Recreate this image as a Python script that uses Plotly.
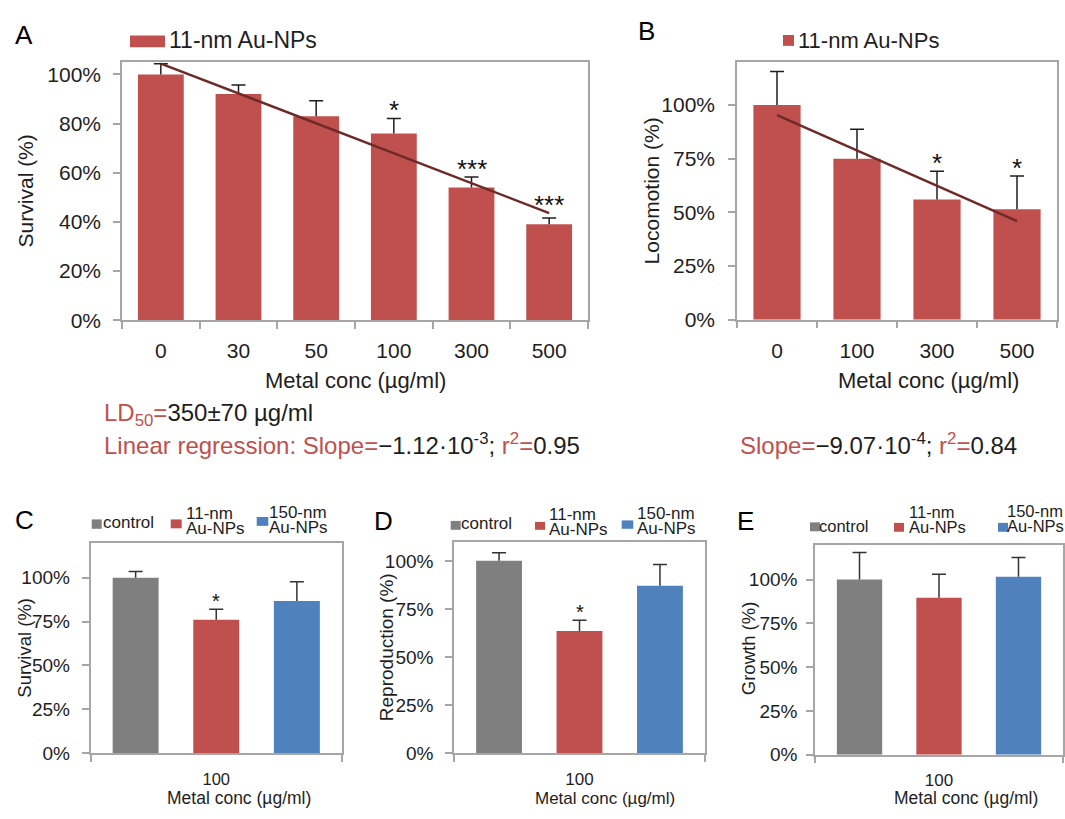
import numpy as np
import plotly.graph_objects as go

# ---------------- data ----------------
# A: survival vs. 11-nm Au-NP concentration
conc_a = ["0", "30", "50", "100", "300", "500"]
survival_a = [1.00, 0.92, 0.83, 0.76, 0.54, 0.39]
survival_a_err = [0.043, 0.037, 0.063, 0.061, 0.043, 0.026]
stars_a = ["", "", "", "*", "***", "***"]

# B: locomotion vs. 11-nm Au-NP concentration
conc_b = ["0", "100", "300", "500"]
locomotion_b = [1.00, 0.75, 0.56, 0.515]
locomotion_b_err = [0.157, 0.137, 0.132, 0.155]
stars_b = ["", "", "*", "*"]

# C-E: control vs. 11-nm vs. 150-nm particles at 100 ug/ml
group_names = ["control", "11-nm Au-NPs", "150-nm Au-NPs"]
group_legend_lines = [["control"], ["11-nm", "Au-NPs"], ["150-nm", "Au-NPs"]]
conc_cde = "100"
survival_c = [1.00, 0.76, 0.867]
survival_c_err = [0.035, 0.060, 0.110]
stars_c = ["", "*", ""]
reproduction_d = [1.00, 0.635, 0.871]
reproduction_d_err = [0.042, 0.056, 0.110]
stars_d = ["", "*", ""]
growth_e = [1.00, 0.896, 1.017]
growth_e_err = [0.155, 0.134, 0.109]
stars_e = ["", "", ""]

# ---------------- styling ----------------
W, H = 1065, 819
FONT = "Liberation Sans, Arial, sans-serif"
TXT = "#1e1e1e"
FRAME = "#a6a6a6"
RED = "#c0504d"
GRAY = "#7f7f7f"
BLUE = "#4f81bd"
TREND = "#6e2a29"
ERR = "#1e1e1e"
ERR_CDE = "#333333"
group_colors = [GRAY, RED, BLUE]

# grouped panels use a numeric axis: one slot per group, centred on 0
group_pos = np.arange(len(group_names)) - (len(group_names) - 1) / 2
GROUP_HALF = 1.56          # half-span of the grouped axes, in slots
BAR_W_CAT = 0.59           # bar width on the category axes (fraction of slot)
BAR_W_GRP = 0.57           # bar width on the grouped axes (in slots)


def px_x(p):
    return p / W


def px_y(p):
    return 1 - p / H


# plot-area frames in pixels: (left, right), (top, bottom)
frames = {
    "A": ((122, 588), (63, 324.5)),
    "B": ((737, 1057), (63, 324)),
    "C": ((90.5, 342), (550, 763.3)),
    "D": ((454, 705), (549, 763.3)),
    "E": ((815, 1063), (552, 765)),
}

AXIS_COMMON = dict(showline=True, mirror=True, linecolor=FRAME, linewidth=1.5,
                   ticks="outside", ticklen=7, tickwidth=1.5, showgrid=False,
                   zeroline=False)


def cat_x_axis(key, anchor, ncat, size, standoff):
    (l, r), _ = frames[key]
    return dict(domain=[px_x(l), px_x(r)], anchor=anchor, type="category",
                range=[-0.5, ncat - 0.5], tickson="boundaries", tickcolor=FRAME,
                tickfont=dict(size=size, color=TXT, family=FONT),
                ticklabelstandoff=standoff, **AXIS_COMMON)


def grp_x_axis(key, anchor, size, standoff):
    (l, r), _ = frames[key]
    return dict(domain=[px_x(l), px_x(r)], anchor=anchor, type="linear",
                range=[-GROUP_HALF, GROUP_HALF], tickvals=[0], ticktext=[conc_cde],
                tickcolor="rgba(0,0,0,0)",
                minor=dict(tickvals=[-GROUP_HALF, GROUP_HALF], ticks="outside",
                           ticklen=7, tickwidth=1.5, tickcolor=FRAME, showgrid=False),
                tickfont=dict(size=size, color=TXT, family=FONT),
                ticklabelstandoff=standoff, **AXIS_COMMON)


def y_axis(key, anchor, top, step, size, standoff):
    _, (t, b) = frames[key]
    vals = list(np.arange(0, 1.0001, step))
    return dict(domain=[px_y(b), px_y(t)], anchor=anchor, range=[0, top],
                tickvals=vals, tickformat=".0%", tickcolor=FRAME,
                tickfont=dict(size=size, color=TXT, family=FONT),
                ticklabelstandoff=standoff, **AXIS_COMMON)


fig = go.Figure()


def add_bars(x, y, color, name, xa, ya, width):
    fig.add_trace(go.Bar(x=x, y=y, width=width, offset=-width / 2,
                         marker=dict(color=color, line=dict(width=0)),
                         name=name, xaxis=xa, yaxis=ya))


def add_plus_errors(x, y, err, color, xa, ya, name):
    # upper-only whiskers with a cap, like spreadsheet "plus" error bars
    wx, wy = [], []
    for xi, yi, ei in zip(x, y, err):
        wx += [xi, xi, None]
        wy += [yi, yi + ei, None]
    fig.add_trace(go.Scatter(x=wx, y=wy, mode="lines", line=dict(color=color, width=1.5),
                             hoverinfo="skip", name=name + " SE", xaxis=xa, yaxis=ya))
    fig.add_trace(go.Scatter(x=list(x), y=[yi + ei for yi, ei in zip(y, err)],
                             mode="markers", hoverinfo="skip", name=name + " SE",
                             marker=dict(symbol="line-ew", size=10,
                                         line=dict(color=color, width=1.5)),
                             xaxis=xa, yaxis=ya))


# linear trendlines over the category index
idx_a = np.arange(len(conc_a))
trend_a = np.polyval(np.polyfit(idx_a, survival_a, 1), idx_a)
idx_b = np.arange(len(conc_b))
trend_b = np.polyval(np.polyfit(idx_b, locomotion_b, 1), idx_b)

add_bars(conc_a, survival_a, RED, group_names[1], "x", "y", BAR_W_CAT)
add_plus_errors(conc_a, survival_a, survival_a_err, ERR, "x", "y", group_names[1])
fig.add_trace(go.Scatter(x=conc_a, y=trend_a, mode="lines",
                         line=dict(color=TREND, width=2.5),
                         name="Linear (11-nm Au-NPs)", xaxis="x", yaxis="y"))

add_bars(conc_b, locomotion_b, RED, group_names[1], "x2", "y2", BAR_W_CAT)
add_plus_errors(conc_b, locomotion_b, locomotion_b_err, ERR, "x2", "y2", group_names[1])
fig.add_trace(go.Scatter(x=conc_b, y=trend_b, mode="lines",
                         line=dict(color=TREND, width=2.5),
                         name="Linear (11-nm Au-NPs)", xaxis="x2", yaxis="y2"))

cde = [
    ("x3", "y3", survival_c, survival_c_err, stars_c),
    ("x4", "y4", reproduction_d, reproduction_d_err, stars_d),
    ("x5", "y5", growth_e, growth_e_err, stars_e),
]
for xa, ya, vals, errs, _ in cde:
    for name, color, pos, v in zip(group_names, group_colors, group_pos, vals):
        add_bars([pos], [v], color, name, xa, ya, BAR_W_GRP)
    add_plus_errors(group_pos, vals, errs, ERR_CDE, xa, ya, "groups")

fig.update_layout(
    width=W, height=H, margin=dict(l=0, r=0, t=0, b=0),
    paper_bgcolor="white", plot_bgcolor="white", showlegend=False,
    barmode="overlay",
    font=dict(family=FONT, color=TXT),
    xaxis=cat_x_axis("A", "y", len(conc_a), 21, 11),
    yaxis=y_axis("A", "x", 1.05, 0.2, 21, 8),
    xaxis2=cat_x_axis("B", "y2", len(conc_b), 21, 11),
    yaxis2=y_axis("B", "x2", 1.2, 0.25, 21, 9),
    xaxis3=grp_x_axis("C", "y3", 16.5, 3),
    yaxis3=y_axis("C", "x3", 1.2, 0.25, 19, 8),
    xaxis4=grp_x_axis("D", "y4", 17, 3),
    yaxis4=y_axis("D", "x4", 1.1, 0.25, 19, 8),
    xaxis5=grp_x_axis("E", "y5", 17, 2),
    yaxis5=y_axis("E", "x5", 1.2, 0.25, 19, 5),
)

ann = []
shapes = []


def text(s, x, y, size, color=TXT, xanchor="center", angle=0):
    ann.append(dict(text=s, x=px_x(x), y=px_y(y), xref="paper", yref="paper",
                    xanchor=xanchor, yanchor="middle", showarrow=False,
                    textangle=angle, borderpad=0,
                    font=dict(size=size, color=color, family=FONT)))


def swatch(x0, x1, y0, y1, color):
    shapes.append(dict(type="rect", xref="paper", yref="paper",
                       x0=px_x(x0), x1=px_x(x1), y0=px_y(y1), y1=px_y(y0),
                       fillcolor=color, line=dict(width=0)))


def star(lab, x, y, xa, ya, size, shift):
    ann.append(dict(text=lab, x=x, y=y, xref=xa, yref=ya, showarrow=False,
                    xanchor="center", yanchor="bottom", yshift=shift,
                    font=dict(size=size, color="#111111", family=FONT)))


# significance marks above error bars (and above the trendline);
# category axes take the category index as annotation position
for i, lab in enumerate(stars_a):
    if lab:
        star(lab, i, max(survival_a[i] + survival_a_err[i], trend_a[i]), "x", "y", 26, -9)
for i, lab in enumerate(stars_b):
    if lab:
        star(lab, i, max(locomotion_b[i] + locomotion_b_err[i], trend_b[i]), "x2", "y2", 26, -9)
for xa, ya, vals, errs, labs in cde:
    for pos, lab, v, e in zip(group_pos, labs, vals, errs):
        if lab:
            star(lab, pos, v + e, xa, ya, 20, -5)

# panel letters
for letter, (x, y) in {"A": (24, 35), "B": (646, 31), "C": (24, 527.5),
                       "D": (383, 528), "E": (745, 528.5)}.items():
    text(letter, x, y, 26, "#000000")

# axis titles
xt = "Metal conc (µg/ml)"
text("Survival (%)", 25, 194, 21, angle=-90)
text(xt, 355, 386, 22)
text("Locomotion (%)", 651, 194, 21, angle=-90)
text(xt, 928, 386, 22)
text("Survival (%)", 24.5, 657, 18.5, angle=-90)
text(xt, 239, 808.5, 17.5)
text("Reproduction (%)", 386, 656, 19, angle=-90)
text(xt, 605, 809, 17)
text("Growth (%)", 748, 657, 18.5, angle=-90)
text(xt, 966, 808.5, 17.5)

# legends for A and B
swatch(130, 165, 36, 48, RED)
text(group_names[1], 168, 41, 23, xanchor="left")
swatch(783, 794, 35.5, 46.5, RED)
text(group_names[1], 797, 41, 22, xanchor="left")

# legends for C-E: swatch x-range, swatch y-range, text x, line y-centres, font size
legend_cde = [
    ([((91.7, 101.7), (526.5, 536), 102, [530]),
      ((170.7, 181.7), (526.5, 535.5), 185, [520, 536]),
      ((256.7, 268.3), (524, 533), 268, [519, 535])], 17),
    ([((450.7, 460.7), (528, 537), 460, [530.7]),
      ((535, 545), (529, 537), 548, [521, 537]),
      ((621.7, 633.3), (527.5, 536), 636, [520, 536])], 17),
    ([((810, 820), (529.5, 538.5), 818, [533]),
      ((894, 904), (530, 539), 908, [519, 534]),
      ((998, 1008), (530, 539), 1006, [518, 533])], 16.5),
]
for panel, size in legend_cde:
    for (sx, sy, tx, ly), color, lines in zip(panel, group_colors, group_legend_lines):
        swatch(sx[0], sx[1], sy[0], sy[1], color)
        for line, y in zip(lines, ly):
            text(line, tx, y, size, xanchor="left")

# regression summary below A and B
R = RED
text(f'<span style="color:{R}">LD<sub>50</sub>=</span>350±70 µg/ml',
     103, 420, 24, xanchor="left")
text(f'<span style="color:{R}">Linear regression: Slope=</span>−1.12·10<sup>-3</sup>; '
     f'<span style="color:{R}">r<sup>2</sup>=</span>0.95', 103, 450, 24, xanchor="left")
text(f'<span style="color:{R}">Slope=</span>−9.07·10<sup>-4</sup>; '
     f'<span style="color:{R}">r<sup>2</sup>=</span>0.84', 739, 450, 24, xanchor="left")

fig.update_layout(annotations=ann, shapes=shapes)
fig.write_html("out.html")
